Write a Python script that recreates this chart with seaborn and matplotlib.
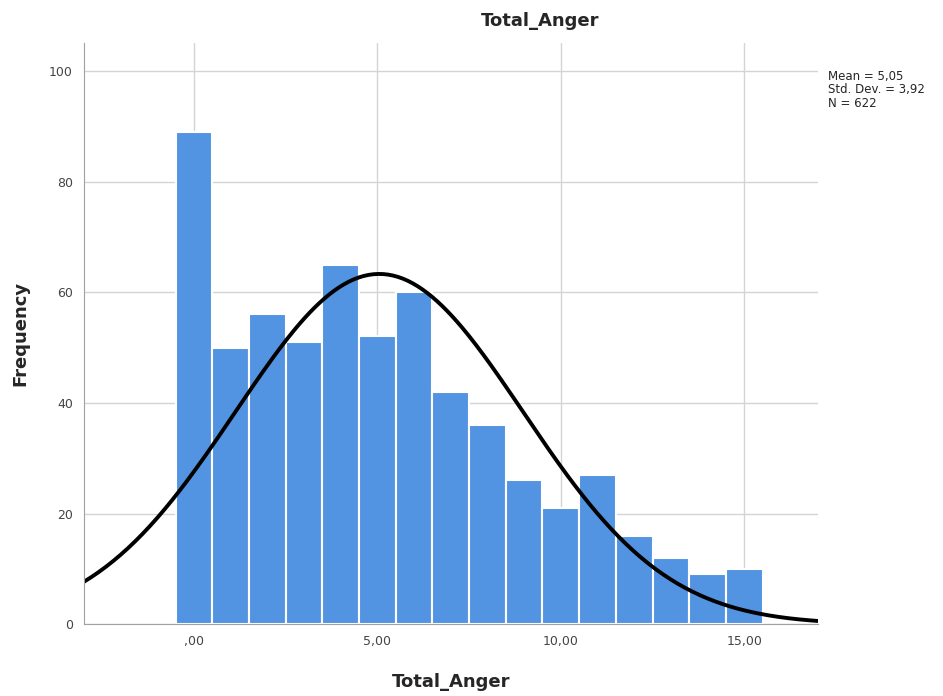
import numpy as np
import pandas as pd
import matplotlib
matplotlib.use("Agg")
import matplotlib.pyplot as plt
import seaborn as sns

scores = [0, 1, 2, 3, 4, 5, 6, 7, 8, 9, 10, 11, 12, 13, 14, 15]
counts = [89, 50, 56, 51, 65, 52, 60, 42, 36, 26, 21, 27, 16, 12, 9, 10]
mean = 5.05
sd = 3.92
n = 622
xticks = [0, 5, 10, 15]
xtick_labels = [",00", "5,00", "10,00", "15,00"]
yticks = [0, 20, 40, 60, 80, 100]

df = pd.DataFrame({"Total_Anger": scores, "count": counts})

sns.set_style("white")
plt.rcParams['font.family'] = ['DejaVu Sans']

fig = plt.figure(figsize=(9.43, 6.96), dpi=100)
ax = fig.add_axes([0.089, 0.103, 0.778, 0.835])

sns.histplot(data=df, x="Total_Anger", weights="count", discrete=True,
             color="#5294e2", alpha=1, edgecolor="white", linewidth=1.5, ax=ax)

# normal curve scaled to counts (bin width 1)
xs = np.linspace(-3, 17, 300)
ys = n * np.exp(-0.5 * ((xs - mean) / sd) ** 2) / (sd * np.sqrt(2 * np.pi))
sns.lineplot(x=xs, y=ys, color="black", linewidth=2.8, ax=ax)

ax.set_xlim(-3, 17)
ax.set_ylim(0, 105)
ax.set_xticks(xticks)
ax.set_xticklabels(xtick_labels)
ax.set_yticks(yticks)
ax.grid(True, color="#d4d4d4", linewidth=1)
ax.set_axisbelow(True)
for s in ["top", "right"]:
    ax.spines[s].set_visible(False)
for s in ["left", "bottom"]:
    ax.spines[s].set_color("#a0a0a0")
ax.tick_params(axis="both", length=0, labelsize=9, labelcolor="#444444", pad=8)

ax.set_xlabel("Total_Anger", fontsize=13, fontweight="bold", labelpad=18)
ax.set_ylabel("Frequency", fontsize=13, fontweight="bold", labelpad=14)
fig.text(0.573, 0.97, "Total_Anger", ha="center", va="center",
         fontsize=13, fontweight="bold")
fig.text(0.878, 0.9, "Mean = 5,05\nStd. Dev. = 3,92\nN = 622",
         ha="left", va="top", fontsize=8.5, linespacing=1.05,
         family=["Liberation Sans Narrow", "DejaVu Sans"])

fig.savefig("out.png", dpi=100)
